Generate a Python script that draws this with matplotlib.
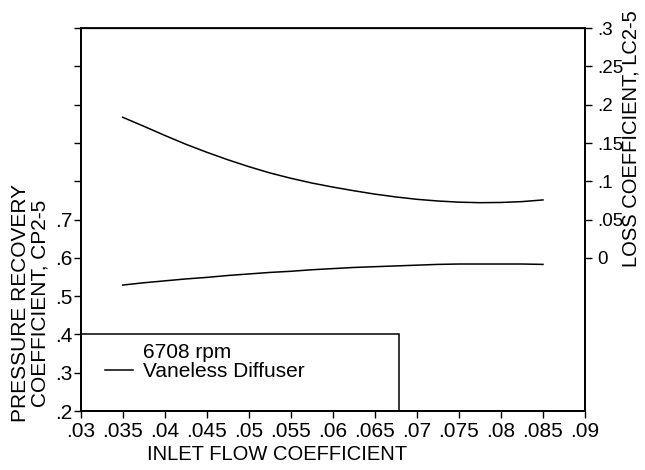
import matplotlib
matplotlib.use("Agg")
import matplotlib.pyplot as plt
from matplotlib.patches import Rectangle

plt.rcParams['font.family'] = ['Liberation Sans', 'DejaVu Sans']

# inlet flow coefficient
flow = [0.035, 0.0375, 0.040, 0.0425, 0.045, 0.0475, 0.050, 0.0525, 0.055, 0.0575, 0.060,
        0.0625, 0.065, 0.0675, 0.070, 0.0725, 0.075, 0.0775, 0.080, 0.0825, 0.085]
# pressure recovery coefficient CP2-5 (left axis)
cp = [0.529, 0.535, 0.540, 0.545, 0.549, 0.554, 0.558, 0.562, 0.565, 0.569, 0.572,
      0.575, 0.577, 0.579, 0.581, 0.583, 0.584, 0.584, 0.584, 0.584, 0.583]
# loss coefficient LC2-5 (right axis)
lc = [0.1837, 0.1720, 0.1600, 0.1485, 0.1380, 0.1282, 0.1192, 0.1110, 0.1040, 0.0978, 0.0925,
      0.0877, 0.0833, 0.0796, 0.0765, 0.0743, 0.0728, 0.0721, 0.0724, 0.0735, 0.0757]

x_ticks = [0.03, 0.035, 0.04, 0.045, 0.05, 0.055, 0.06, 0.065, 0.07, 0.075, 0.08, 0.085, 0.09]
x_labels = ['.03', '.035', '.04', '.045', '.05', '.055', '.06', '.065', '.07', '.075', '.08', '.085', '.09']
left_ticks = [0.2, 0.3, 0.4, 0.5, 0.6, 0.7, 0.8, 0.9, 1.0, 1.1, 1.2]
left_labels = ['.2', '.3', '.4', '.5', '.6', '.7', '', '', '', '', '']
right_ticks = [0.0, 0.05, 0.1, 0.15, 0.2, 0.25, 0.3]
right_labels = ['0', '.05', '.1', '.15', '.2', '.25', '.3']

fig = plt.figure(figsize=(6.45, 4.70), dpi=100)
ax = fig.add_axes([0.125, 0.1255, 0.782, 0.8145])
ax2 = ax.twinx()

line, = ax.plot(flow, cp, color='black', lw=1.1)
ax2.plot(flow, lc, color='black', lw=1.1)

ax.set_xlim(0.03, 0.09)
ax.set_ylim(0.2, 1.2)
ax2.set_ylim(-0.2, 0.3)

ax.set_xticks(x_ticks)
ax.set_xticklabels(x_labels)
ax.set_yticks(left_ticks)
ax.set_yticklabels(left_labels)
ax2.set_yticks(right_ticks)
ax2.set_yticklabels(right_labels)

ax.tick_params(axis='both', direction='out', length=5, width=1, labelsize=15, pad=1)
ax.tick_params(axis='x', pad=3)
ax2.tick_params(axis='y', direction='out', length=5, width=1, labelsize=13.5, pad=4)

for a in (ax, ax2):
    for s in a.spines.values():
        s.set_linewidth(1.3)
ax.spines['top'].set_linewidth(0.9)

# legend box in the lower left corner
ax.add_patch(Rectangle((0.03, 0.2), 0.0379, 0.2, fill=False, edgecolor='black', lw=1.1, zorder=3))
ax.text(0.03742, 0.354, '6708 rpm', fontsize=15, ha='left', va='center')
leg = ax.legend([line], ['Vaneless Diffuser'], frameon=False, loc='upper left',
                bbox_to_anchor=(0.048, 0.127), fontsize=15, handlelength=1.35,
                handletextpad=0.48, borderaxespad=0, borderpad=0)

fig.text(0.0465, 0.355, 'PRESSURE RECOVERY\nCOEFFICIENT, CP2-5', rotation=90,
         ha='center', va='center', fontsize=15, linespacing=1.05)
fig.text(0.979, 0.704, 'LOSS COEFFICIENT, LC2-5', rotation=90,
         ha='center', va='center', fontsize=14.5)
fig.text(0.430, 0.032, 'INLET FLOW COEFFICIENT', ha='center', va='center', fontsize=14.5)

fig.savefig('out.png', dpi=100)
